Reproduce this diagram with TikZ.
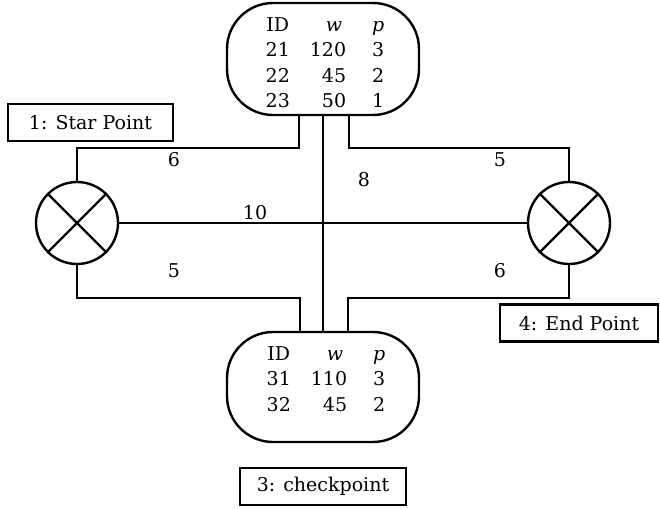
\documentclass[tikz,border=0pt]{standalone}
\usepackage{fontspec}
\setmainfont{DejaVu Serif}
\begin{document}
\begin{tikzpicture}[x=1pt,y=-1pt,
  wire/.style={line width=2.4pt},
  tbox/.style={draw,line width=2.4pt,rounded corners=46pt,minimum width=192pt,inner sep=0pt},
  lamp/.style={draw,line width=2.4pt,circle,minimum size=82pt,inner sep=0pt},
  tag/.style={draw,line width=2.4pt,rectangle,inner sep=0pt,minimum height=37pt,font=\fontsize{19}{22}\selectfont},
  num/.style={font=\fontsize{19}{22}\selectfont,inner sep=0pt},
  tabtxt/.style={font=\fontsize{19}{25.5}\selectfont,inner sep=0pt,align=center}]
\useasboundingbox (0,0) rectangle (660,508);
% boxes
\node[tbox,minimum height=112pt] (top) at (323,59) {};
\node[tbox,minimum height=110pt] (bot) at (323,387) {};
\node[tabtxt,anchor=north] (toptab) at (325,13) {\begin{tabular}{@{}c@{\hspace{20pt}}r@{\hspace{26pt}}c@{}}ID & \textit{w}\hspace{4pt} & \textit{p}\\21 & 120 & 3\\22 & 45 & 2\\23 & 50 & 1\end{tabular}};
\node[tabtxt,anchor=north] (bottab) at (326,342) {\begin{tabular}{@{}c@{\hspace{20pt}}r@{\hspace{26pt}}c@{}}ID & \textit{w}\hspace{4pt} & \textit{p}\\31 & 110 & 3\\32 & 45 & 2\end{tabular}};
% lamps
\node[lamp] (L) at (77,223) {};
\node[lamp] (R) at (569,223) {};
\foreach \n in {L,R}{
  \draw[wire] (\n.north west) -- (\n.south east);
  \draw[wire] (\n.north east) -- (\n.south west);
}
% coordinates for connectors
\coordinate (tl) at (299,148);
\coordinate (tr) at (349,148);
\coordinate (bl) at (300,298);
\coordinate (br) at (348,298);
\draw[wire] (L.north) |- (tl) -- (tl |- top.south);
\draw[wire] (L.south) |- (bl) -- (bl |- bot.north);
\draw[wire] (R.north) |- (tr) -- (tr |- top.south);
\draw[wire] (R.south) |- (br) -- (br |- bot.north);
\draw[wire] (L.east) -- (R.west);
\draw[wire] (top.south) -- (bot.north);
% labels
\node[num] (l6a) at (174,160) {6};
\node[num] (l5a) at (174,271) {5};
\node[num] (l10) at (255,213) {10};
\node[num] (l8) at (364,180) {8};
\node[num] (l5b) at (500,160) {5};
\node[num] (l6b) at (500,271) {6};
% tags
\node[tag,minimum width=165pt] (star) at (90.5,122.5) {1: Star Point};
\node[tag,minimum width=158pt] (end) at (579,323) {4: End Point};
\node[tag,minimum width=166pt] (chk) at (323,486.5) {3: checkpoint};
\end{tikzpicture}
\end{document}
